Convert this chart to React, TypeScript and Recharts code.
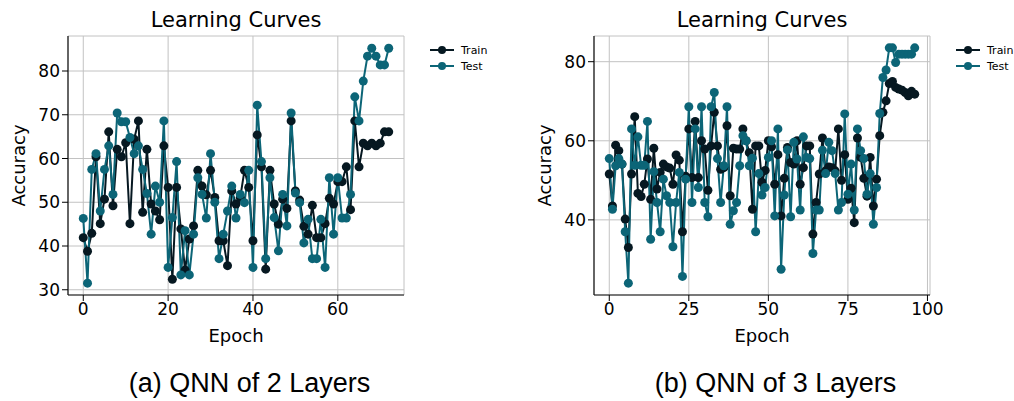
import React from 'react'
import { LineChart, Line, XAxis, YAxis, CartesianGrid } from 'recharts'

const FONT = '"DejaVu Sans", sans-serif'
const TRAIN_COLOR = '#061821'
const TEST_COLOR = '#0c6577'

// (a) QNN of 2 layers, epochs 0..72
const trainA = [
  41.9, 38.8, 42.9, 60.4, 45.1, 50.7, 66.1, 49.2, 62.1, 60.4,
  63.6, 45.1, 64.4, 68.6, 47.7, 62.1, 49.6, 48.0, 46.0, 62.9,
  53.4, 32.4, 53.4, 43.9, 34.5, 41.6, 44.6, 57.3, 53.7, 51.7,
  57.3, 51.1, 41.2, 41.2, 35.5, 52.6, 49.6, 51.1, 57.3, 53.4,
  41.2, 65.4, 58.1, 34.7, 57.3, 49.6, 45.0, 50.7, 48.6, 68.6,
  52.6, 50.5, 44.5, 42.7, 49.3, 41.9, 41.9, 45.1, 50.9, 49.6,
  54.7, 54.7, 58.1, 48.3, 68.6, 58.1, 63.5, 62.9, 63.5, 62.9,
  63.5, 66.1, 66.1,
]
const testA = [
  46.3, 31.5, 57.5, 61.1, 48.0, 57.5, 62.9, 51.8, 70.4, 68.4,
  68.4, 64.8, 61.1, 62.9, 57.5, 52.0, 42.7, 53.7, 50.0, 68.6,
  35.1, 46.5, 59.3, 33.4, 43.5, 33.4, 42.7, 55.6, 51.8, 46.4,
  61.1, 50.0, 37.1, 42.7, 48.0, 53.7, 46.4, 51.8, 49.9, 57.3,
  35.1, 72.2, 59.3, 37.1, 55.6, 46.5, 38.9, 51.8, 44.6, 70.4,
  52.1, 49.9, 40.7, 46.1, 37.1, 37.1, 46.1, 35.1, 55.6, 42.7,
  55.6, 46.4, 46.4, 51.8, 74.1, 68.6, 77.7, 83.4, 85.2, 83.4,
  81.4, 81.4, 85.2,
]

// (b) QNN of 3 layers, epochs 0..96
const trainB = [
  51.6, 43.5, 58.9, 57.5, 54.1, 40.2, 33.0, 51.6, 66.1, 46.7,
  45.9, 49.0, 55.4, 45.2, 58.1, 47.8, 52.0, 54.1, 53.4, 53.1,
  49.0, 56.4, 55.1, 37.0, 51.0, 63.0, 50.7, 64.9, 50.7, 60.0,
  57.9, 47.5, 58.7, 67.2, 58.7, 52.8, 53.2, 63.8, 46.1, 58.1,
  57.9, 57.9, 63.0, 60.0, 57.0, 42.7, 58.7, 58.7, 49.5, 52.5,
  60.0, 58.5, 49.0, 56.5, 41.0, 50.5, 58.3, 54.5, 54.1, 60.0,
  49.0, 53.2, 58.7, 58.7, 36.4, 44.4, 51.6, 60.7, 52.4, 53.4,
  53.2, 52.4, 63.0, 50.0, 56.5, 45.2, 48.0, 39.3, 60.7, 55.8,
  50.5, 46.0, 55.8, 43.5, 50.3, 61.3, 67.2, 70.1, 74.5, 75.0,
  73.5, 73.1, 72.8, 72.2, 71.4, 72.5, 71.8,
]
const testB = [
  55.5, 42.7, 53.7, 55.5, 54.1, 37.0, 24.0, 63.0, 53.8, 61.0,
  53.8, 53.8, 64.9, 35.1, 52.2, 44.4, 37.0, 50.3, 46.1, 44.4,
  33.2, 44.4, 52.0, 25.7, 50.3, 68.6, 44.4, 63.0, 48.2, 68.6,
  44.4, 40.8, 68.6, 72.2, 55.5, 44.4, 53.7, 68.6, 38.9, 42.3,
  44.4, 53.7, 61.3, 60.0, 53.7, 55.6, 37.0, 51.7, 46.3, 48.2,
  55.8, 60.0, 41.0, 63.0, 27.5, 46.3, 57.7, 40.8, 59.6, 55.4,
  42.5, 61.0, 55.8, 55.5, 31.5, 42.5, 42.5, 57.6, 51.7, 59.6,
  57.5, 51.7, 42.5, 44.4, 66.8, 46.5, 54.1, 42.5, 63.0, 57.5,
  55.5, 46.5, 51.7, 38.9, 48.2, 66.9, 76.0, 77.9, 83.5, 83.5,
  79.8, 81.9, 81.9, 81.9, 81.9, 81.9, 83.5,
]

const xTicksA = [0, 20, 40, 60]
const yTicksA = [30, 40, 50, 60, 70, 80]
const xTicksB = [0, 25, 50, 75, 100]
const yTicksB = [40, 60, 80]

const toRows = (train: number[], test: number[]) =>
  train.map((v, i) => ({ epoch: i, train: v, test: test[i] }))

const LegendBox = () => (
  <div style={{ position: 'absolute', left: 430, top: 42, fontFamily: FONT, fontSize: 11, color: '#000' }}>
    {[
      { name: 'Train', color: TRAIN_COLOR },
      { name: 'Test', color: TEST_COLOR },
    ].map(s => (
      <div key={s.name} style={{ display: 'flex', alignItems: 'center', height: 16 }}>
        <svg width={24} height={10}>
          <line x1={0} y1={5} x2={24} y2={5} stroke={s.color} strokeWidth={2} />
          <circle cx={12} cy={5} r={4} fill={s.color} />
        </svg>
        <span style={{ marginLeft: 7 }}>{s.name}</span>
      </div>
    ))}
  </div>
)

type PanelProps = {
  left: number
  width: number
  train: number[]
  test: number[]
  xDomain: [number, number]
  yDomain: [number, number]
  xTicks: number[]
  yTicks: number[]
  caption: string
}

function Panel({ left, width, train, test, xDomain, yDomain, xTicks, yTicks, caption }: PanelProps) {
  const rows = toRows(train, test)
  const tick = { fill: '#000', fontSize: 17, fontFamily: FONT }
  return (
    <div style={{ position: 'absolute', left, top: 0, width, height: 401 }}>
      <div
        style={{
          position: 'absolute', left: 68, top: 7, width: 336, textAlign: 'center',
          fontFamily: FONT, fontSize: 21, lineHeight: '26px', color: '#000',
        }}
      >
        Learning Curves
      </div>
      <LineChart
        width={width}
        height={350}
        data={rows}
        margin={{ top: 36, right: width - 404, left: 0, bottom: 0 }}
      >
        <CartesianGrid stroke="#c2c2c2" strokeWidth={1} />
        <XAxis
          dataKey="epoch"
          type="number"
          domain={xDomain}
          ticks={xTicks}
          allowDataOverflow
          height={55}
          tick={tick}
          tickLine={{ stroke: '#000' }}
          axisLine={{ stroke: '#111', strokeWidth: 1.2 }}
          label={{ value: 'Epoch', position: 'insideBottom', offset: 8, style: { fontFamily: FONT, fontSize: 18, fill: '#000' } }}
        />
        <XAxis
          xAxisId="top"
          orientation="top"
          dataKey="epoch"
          type="number"
          domain={xDomain}
          allowDataOverflow
          height={0}
          tick={false}
          tickLine={false}
          axisLine={{ stroke: '#777', strokeWidth: 1.6 }}
        />
        <YAxis
          type="number"
          domain={yDomain}
          ticks={yTicks}
          allowDataOverflow
          width={68}
          tick={tick}
          tickLine={{ stroke: '#000' }}
          axisLine={{ stroke: '#111', strokeWidth: 1.2 }}
          label={{
            value: 'Accuracy', angle: -90, position: 'insideLeft', offset: 19,
            style: { fontFamily: FONT, fontSize: 18, fill: '#000', textAnchor: 'middle' },
          }}
        />
        <YAxis
          yAxisId="right"
          orientation="right"
          type="number"
          domain={yDomain}
          allowDataOverflow
          width={0}
          tick={false}
          tickLine={false}
          axisLine={{ stroke: '#777', strokeWidth: 1.6 }}
        />
        <Line
          type="linear"
          dataKey="train"
          name="Train"
          stroke={TRAIN_COLOR}
          strokeWidth={2}
          dot={{ r: 4.5, fill: TRAIN_COLOR, stroke: TRAIN_COLOR, strokeWidth: 0 }}
          activeDot={false}
          isAnimationActive={false}
        />
        <Line
          type="linear"
          dataKey="test"
          name="Test"
          stroke={TEST_COLOR}
          strokeWidth={2}
          dot={{ r: 4.5, fill: TEST_COLOR, stroke: TEST_COLOR, strokeWidth: 0 }}
          activeDot={false}
          isAnimationActive={false}
        />
      </LineChart>
      <LegendBox />
      <div
        style={{
          position: 'absolute', left: -0.5, top: 367, width: 500,
          textAlign: 'center', fontFamily: '"Liberation Sans", Arial, sans-serif',
          fontSize: 27, lineHeight: '32px', color: '#000',
        }}
      >
        {caption}
      </div>
    </div>
  )
}

export default function App() {
  return (
    <div style={{ position: 'absolute', left: 0, top: 0, width: 1014, height: 401, background: '#fff', overflow: 'hidden' }}>
      <Panel
        left={0}
        width={500}
        train={trainA}
        test={testA}
        xDomain={[-3.6, 75.6]}
        yDomain={[28.8, 88.0]}
        xTicks={xTicksA}
        yTicks={yTicksA}
        caption="(a) QNN of 2 Layers"
      />
      <Panel
        left={526}
        width={488}
        train={trainB}
        test={testB}
        xDomain={[-4.8, 100.8]}
        yDomain={[21.0, 86.5]}
        xTicks={xTicksB}
        yTicks={yTicksB}
        caption="(b) QNN of 3 Layers"
      />
    </div>
  )
}
